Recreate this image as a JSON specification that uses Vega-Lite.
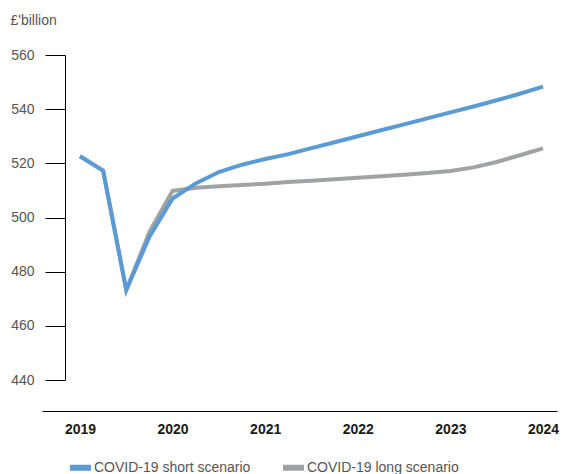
{
  "$schema": "https://vega.github.io/schema/vega-lite/v6.json",
  "autosize": {"type": "none"},
  "padding": {"left": 42, "top": 55, "right": 6, "bottom": 94},
  "width": 515,
  "height": 325,
  "config": {
    "view": {"stroke": null},
    "font": "Liberation Sans"
  },
  "data": {
    "values": [
      {"t": 2019.0, "s": "COVID-19 short scenario", "v": 522.6},
      {"t": 2019.25, "s": "COVID-19 short scenario", "v": 517.3},
      {"t": 2019.5, "s": "COVID-19 short scenario", "v": 473.2},
      {"t": 2019.75, "s": "COVID-19 short scenario", "v": 492.9},
      {"t": 2020.0, "s": "COVID-19 short scenario", "v": 507.0},
      {"t": 2020.25, "s": "COVID-19 short scenario", "v": 512.6},
      {"t": 2020.5, "s": "COVID-19 short scenario", "v": 516.8},
      {"t": 2020.75, "s": "COVID-19 short scenario", "v": 519.5},
      {"t": 2021.0, "s": "COVID-19 short scenario", "v": 521.6},
      {"t": 2021.25, "s": "COVID-19 short scenario", "v": 523.4},
      {"t": 2021.5, "s": "COVID-19 short scenario", "v": 525.6},
      {"t": 2021.75, "s": "COVID-19 short scenario", "v": 527.8},
      {"t": 2022.0, "s": "COVID-19 short scenario", "v": 530.0},
      {"t": 2022.25, "s": "COVID-19 short scenario", "v": 532.2},
      {"t": 2022.5, "s": "COVID-19 short scenario", "v": 534.4},
      {"t": 2022.75, "s": "COVID-19 short scenario", "v": 536.6},
      {"t": 2023.0, "s": "COVID-19 short scenario", "v": 538.8},
      {"t": 2023.25, "s": "COVID-19 short scenario", "v": 541.0},
      {"t": 2023.5, "s": "COVID-19 short scenario", "v": 543.3},
      {"t": 2023.75, "s": "COVID-19 short scenario", "v": 545.7},
      {"t": 2024.0, "s": "COVID-19 short scenario", "v": 548.3},
      {"t": 2019.0, "s": "COVID-19 long scenario", "v": 522.6},
      {"t": 2019.25, "s": "COVID-19 long scenario", "v": 517.3},
      {"t": 2019.5, "s": "COVID-19 long scenario", "v": 473.2},
      {"t": 2019.75, "s": "COVID-19 long scenario", "v": 494.7},
      {"t": 2020.0, "s": "COVID-19 long scenario", "v": 509.8},
      {"t": 2020.25, "s": "COVID-19 long scenario", "v": 511.0},
      {"t": 2020.5, "s": "COVID-19 long scenario", "v": 511.5},
      {"t": 2020.75, "s": "COVID-19 long scenario", "v": 512.0},
      {"t": 2021.0, "s": "COVID-19 long scenario", "v": 512.5},
      {"t": 2021.25, "s": "COVID-19 long scenario", "v": 513.1},
      {"t": 2021.5, "s": "COVID-19 long scenario", "v": 513.6},
      {"t": 2021.75, "s": "COVID-19 long scenario", "v": 514.1},
      {"t": 2022.0, "s": "COVID-19 long scenario", "v": 514.7},
      {"t": 2022.25, "s": "COVID-19 long scenario", "v": 515.2},
      {"t": 2022.5, "s": "COVID-19 long scenario", "v": 515.8},
      {"t": 2022.75, "s": "COVID-19 long scenario", "v": 516.4},
      {"t": 2023.0, "s": "COVID-19 long scenario", "v": 517.2},
      {"t": 2023.25, "s": "COVID-19 long scenario", "v": 518.5},
      {"t": 2023.5, "s": "COVID-19 long scenario", "v": 520.5},
      {"t": 2023.75, "s": "COVID-19 long scenario", "v": 523.0},
      {"t": 2024.0, "s": "COVID-19 long scenario", "v": 525.5}
    ]
  },
  "encoding": {
    "x": {
      "field": "t",
      "type": "quantitative",
      "scale": {"domain": [2018.59, 2024.151], "nice": false, "zero": false},
      "axis": {
        "title": null,
        "values": [2019, 2020, 2021, 2022, 2023, 2024],
        "format": "d",
        "offset": 31,
        "ticks": false,
        "grid": false,
        "domainColor": "#000000",
        "domainWidth": 1,
        "labelPadding": 11,
        "labelFont": "Liberation Sans",
        "labelFontSize": 14,
        "labelFontWeight": "bold",
        "labelColor": "#1a1a1a"
      }
    },
    "y": {
      "field": "v",
      "type": "quantitative",
      "scale": {"domain": [440, 560], "nice": false, "zero": false},
      "axis": {
        "title": "£'billion",
        "titleAngle": 0,
        "titleAlign": "left",
        "titleBaseline": "alphabetic",
        "titleX": -55,
        "titleY": -31,
        "titleFont": "Liberation Sans",
        "titleFontSize": 14,
        "titleFontWeight": "normal",
        "titleColor": "#555555",
        "values": [440, 460, 480, 500, 520, 540, 560],
        "offset": -23,
        "tickSize": 20,
        "tickColor": "#000000",
        "domainColor": "#000000",
        "grid": false,
        "labelPadding": 11,
        "labelFont": "Liberation Sans",
        "labelFontSize": 14,
        "labelColor": "#555555"
      }
    },
    "color": {
      "field": "s",
      "type": "nominal",
      "scale": {
        "domain": ["COVID-19 short scenario", "COVID-19 long scenario"],
        "range": ["#5b9bd5", "#a0a2a4"]
      },
      "legend": {
        "title": null,
        "orient": "none",
        "direction": "horizontal",
        "legendX": 25,
        "legendY": 399,
        "symbolType": "stroke",
        "symbolSize": 441,
        "symbolStrokeWidth": 6,
        "labelFont": "Liberation Sans",
        "labelFontSize": 14,
        "labelColor": "#555555",
        "labelOffset": 0,
        "columnPadding": 20
      }
    }
  },
  "layer": [
    {
      "transform": [{"filter": "datum.s === 'COVID-19 long scenario'"}],
      "mark": {"type": "line", "strokeWidth": 4}
    },
    {
      "transform": [{"filter": "datum.s === 'COVID-19 short scenario'"}],
      "mark": {"type": "line", "strokeWidth": 4}
    }
  ]
}
